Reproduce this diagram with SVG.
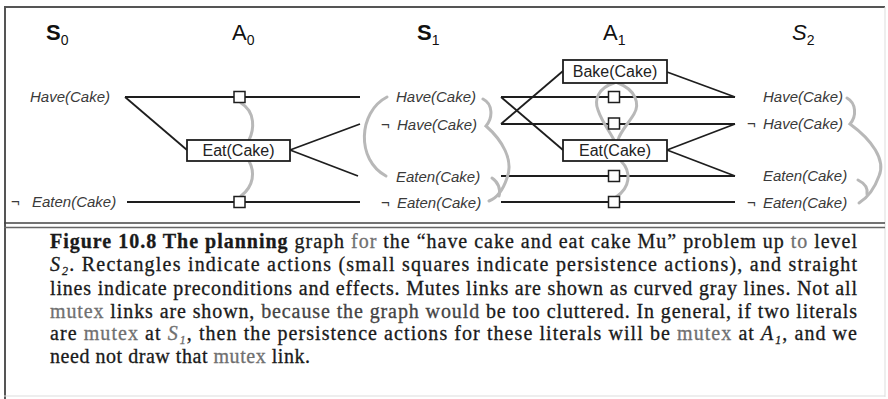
<svg xmlns="http://www.w3.org/2000/svg" width="888" height="399" viewBox="0 0 888 399">
<style>
.frame{fill:none;stroke:#555;stroke-width:2}
.ln{stroke:#1e1e1e;stroke-width:1.8;fill:none}
.box{fill:#fff;stroke:#1e1e1e;stroke-width:1.8}
.sq{fill:#fff;stroke:#1e1e1e;stroke-width:1.5}
.mx{fill:none;stroke:#b8b8b8;stroke-width:3;stroke-linecap:round}
.lit{font-family:"Liberation Sans",Arial,sans-serif;font-style:italic;font-size:15px;fill:#3a3a3a}
.neg{font-family:"Liberation Sans",Arial,sans-serif;font-size:15px;fill:#3a3a3a}
.act{font-family:"Liberation Sans",Arial,sans-serif;font-size:16px;fill:#222}
.hd{font-family:"Liberation Sans",Arial,sans-serif;font-size:22px;fill:#111}
.sub{font-size:14px}
.cap{font-family:"Liberation Serif","Times New Roman","DejaVu Serif",serif;font-size:20px;fill:#1a1a1a;stroke:#1a1a1a;stroke-width:0.3}
.g{fill:#707070;stroke:#707070}
</style>
<rect width="888" height="399" fill="#fff"/>
<g id="frame">
<line x1="4" y1="7" x2="885" y2="7" class="frame"/>
<line x1="5" y1="7" x2="5" y2="399" class="frame" stroke-width="1.5"/>
<line x1="885" y1="7" x2="885" y2="397" stroke="#ddd" stroke-width="1"/>
<line x1="4" y1="223" x2="885" y2="223" stroke="#444" stroke-width="1.5"/>
<line x1="4" y1="227.5" x2="885" y2="227.5" stroke="#666" stroke-width="1.5"/>
<line x1="4" y1="396" x2="885" y2="396" stroke="#ddd" stroke-width="1"/>
</g>
<g id="headers">
<text class="hd" x="46" y="40" font-weight="bold">S<tspan class="sub" font-weight="normal" dy="5">0</tspan></text>
<text class="hd" x="232" y="40">A<tspan class="sub" dy="5">0</tspan></text>
<text class="hd" x="417" y="40" font-weight="bold">S<tspan class="sub" font-weight="normal" dy="5">1</tspan></text>
<text class="hd" x="603" y="40">A<tspan class="sub" dy="5">1</tspan></text>
<text class="hd" x="792" y="40" font-style="italic">S<tspan class="sub" font-style="normal" dy="5">2</tspan></text>
</g>
<g id="connectors">
<line class="ln" x1="125" y1="97" x2="360" y2="97"/>
<line class="ln" x1="125" y1="97" x2="187" y2="150"/>
<line class="ln" x1="290" y1="150" x2="360" y2="124"/>
<line class="ln" x1="290" y1="150" x2="358" y2="176"/>
<line class="ln" x1="127" y1="202" x2="360" y2="202"/>
<line class="ln" x1="501" y1="97" x2="735" y2="97"/>
<line class="ln" x1="501" y1="124" x2="735" y2="124"/>
<line class="ln" x1="501" y1="97" x2="563" y2="150"/>
<line class="ln" x1="501" y1="124" x2="563" y2="71"/>
<line class="ln" x1="501" y1="176" x2="735" y2="176"/>
<line class="ln" x1="501" y1="202" x2="735" y2="202"/>
<line class="ln" x1="667" y1="72" x2="735" y2="97"/>
<line class="ln" x1="667" y1="150" x2="735" y2="124"/>
<line class="ln" x1="667" y1="150" x2="735" y2="176"/>
</g>
<g id="mutex">
<path class="mx" d="M241,103 C256,112 254,130 249,140"/>
<path class="mx" d="M249,161 C255,172 254,186 241,196"/>
<path class="mx" d="M387,97 C358,112 356,160 386,176"/>
<path class="mx" d="M483,99 C493,104 493,118 486,126 C502,140 514,160 507,178 C503,190 497,198 489,201"/>
<path class="mx" d="M492,178 C498,182 501,189 499,196"/>
<path class="mx" d="M614,83 C598,88 594,100 598,110 C602,122 610,132 614,140"/>
<path class="mx" d="M618,83 C636,90 640,104 634,114 C628,124 620,132 618,140"/>
<path class="mx" d="M621,161 C632,172 630,188 616,197"/>
<path class="mx" d="M847,98 C856,103 857,116 850,124 C872,140 886,160 879,176 C874,190 867,198 859,203"/>
<path class="mx" d="M858,180 C864,183 868,188 867,194"/>
</g>
<g id="s0-have"><text class="lit" x="30" y="102">Have(Cake)</text></g>
<g id="s0-noteaten"><text class="neg" x="11" y="207">¬</text><text class="lit" x="32" y="207">Eaten(Cake)</text></g>
<g id="a0-persist-have"><rect class="sq" x="234" y="91.5" width="11" height="11"/></g>
<g id="a0-persist-noteaten"><rect class="sq" x="234" y="196.5" width="11" height="11"/></g>
<g id="a0-eat"><rect class="box" x="187" y="140" width="103" height="21"/><text class="act" x="238.5" y="156" text-anchor="middle">Eat(Cake)</text></g>
<g id="s1-have"><text class="lit" x="396" y="102">Have(Cake)</text></g>
<g id="s1-nothave"><text class="neg" x="381" y="130">¬</text><text class="lit" x="397" y="130">Have(Cake)</text></g>
<g id="s1-eaten"><text class="lit" x="396" y="182">Eaten(Cake)</text></g>
<g id="s1-noteaten"><text class="neg" x="381" y="208">¬</text><text class="lit" x="397" y="208">Eaten(Cake)</text></g>
<g id="a1-bake"><rect class="box" x="563" y="60" width="104" height="23"/><text class="act" x="615" y="77" text-anchor="middle">Bake(Cake)</text></g>
<g id="a1-eat"><rect class="box" x="563" y="140" width="104" height="21"/><text class="act" x="615" y="156" text-anchor="middle">Eat(Cake)</text></g>
<g id="a1-persist-have"><rect class="sq" x="608.5" y="91.5" width="11" height="11"/></g>
<g id="a1-persist-nothave"><rect class="sq" x="608.5" y="118" width="11" height="11"/></g>
<g id="a1-persist-eaten"><rect class="sq" x="608.5" y="170.5" width="11" height="11"/></g>
<g id="a1-persist-noteaten"><rect class="sq" x="608.5" y="196.5" width="11" height="11"/></g>
<g id="s2-have"><text class="lit" x="763" y="102">Have(Cake)</text></g>
<g id="s2-nothave"><text class="neg" x="747" y="129">¬</text><text class="lit" x="763" y="129">Have(Cake)</text></g>
<g id="s2-eaten"><text class="lit" x="763" y="181">Eaten(Cake)</text></g>
<g id="s2-noteaten"><text class="neg" x="747" y="208">¬</text><text class="lit" x="763" y="208">Eaten(Cake)</text></g>
<g id="caption">
<text class="cap" x="50" y="248" textLength="807" lengthAdjust="spacing"><tspan font-weight="bold">Figure 10.8  The planning</tspan> graph <tspan class="g">for</tspan> the “have cake and eat cake Mu” problem up <tspan class="g">to</tspan> level</text>
<text class="cap" x="50" y="271" textLength="807" lengthAdjust="spacing"><tspan font-style="italic">S₂</tspan>.  Rectangles indicate actions (small squares indicate persistence actions), and straight</text>
<text class="cap" x="50" y="295" textLength="807" lengthAdjust="spacing">lines indicate preconditions and effects. Mutes links are shown as curved gray lines. Not all</text>
<text class="cap" x="50" y="318" textLength="807" lengthAdjust="spacing"><tspan class="g">mutex</tspan> links are shown, <tspan fill="#444" stroke="#444">because the graph would</tspan> be too cluttered. In general, if two literals</text>
<text class="cap" x="50" y="340" textLength="807" lengthAdjust="spacing">are <tspan class="g">mutex</tspan> at <tspan class="g" font-style="italic">S₁</tspan>, then the persistence actions for these literals will be <tspan class="g">mutex</tspan> at <tspan font-style="italic">A₁</tspan>, and we</text>
<text class="cap" x="50" y="363" textLength="260" lengthAdjust="spacing">need not draw that <tspan class="g">mutex</tspan> link.</text>
</g>
</svg>
